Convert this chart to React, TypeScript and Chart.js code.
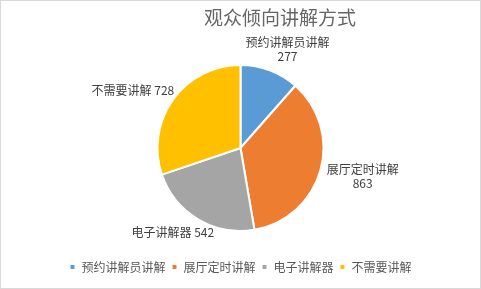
import React, { useEffect, useRef } from "react";
import { Chart, registerables } from "chart.js";

Chart.register(...registerables);

const titleText = "观众倾向讲解方式";
const categories = ["预约讲解员讲解", "展厅定时讲解", "电子讲解器", "不需要讲解"];
const values = [277, 863, 542, 728];
const colors = ["#5B9BD5", "#ED7D31", "#A5A5A5", "#FFC000"];
const labelStacked = [true, true, false, false];

const FONT = "'Noto Sans CJK SC', 'Microsoft YaHei', sans-serif";

const framePlugin = {
  id: "frame",
  beforeDraw(chart: any) {
    const { ctx, width, height } = chart;
    ctx.save();
    ctx.fillStyle = "#ffffff";
    ctx.fillRect(0, 0, width, height);
    ctx.strokeStyle = "#d9d9d9";
    ctx.lineWidth = 1;
    ctx.strokeRect(0.5, 0.5, width - 1, height - 1);
    ctx.restore();
  },
  afterDraw(chart: any) {
    const { ctx } = chart;
    ctx.save();
    ctx.font = `19px ${FONT}`;
    ctx.fillStyle = "#666666";
    ctx.textAlign = "center";
    ctx.textBaseline = "middle";
    ctx.fillText(titleText, 280, 18);
    ctx.restore();
  },
};

const labelPlugin = {
  id: "sliceLabels",
  afterDatasetsDraw(chart: any) {
    const { ctx } = chart;
    const meta = chart.getDatasetMeta(0);
    ctx.save();
    ctx.font = `12px ${FONT}`;
    ctx.fillStyle = "#404040";
    ctx.textAlign = "center";
    ctx.textBaseline = "middle";
    const lineH = 14;
    meta.data.forEach((arc: any, i: number) => {
      const p = arc.getProps(["x", "y", "startAngle", "endAngle", "outerRadius"], true);
      const mid = (p.startAngle + p.endAngle) / 2;
      const dx = Math.cos(mid);
      const dy = Math.sin(mid);
      const lines = labelStacked[i]
        ? [categories[i], String(values[i])]
        : [categories[i] + " " + values[i]];
      const w = Math.max(...lines.map((l) => ctx.measureText(l).width));
      const h = lines.length * lineH;
      const ax = p.x + (p.outerRadius + 8) * dx;
      const ay = p.y + (p.outerRadius + 8) * dy;
      const cx = ax + dx * (w / 2);
      const cy = ay + dy * (h / 2);
      lines.forEach((l, k) => {
        ctx.fillText(l, cx, cy - h / 2 + lineH / 2 + k * lineH);
      });
    });
    ctx.restore();
  },
};

export default function App() {
  const ref = useRef<HTMLCanvasElement>(null);
  useEffect(() => {
    if (!ref.current) return;
    const chart = new Chart(ref.current, {
      type: "pie",
      data: {
        labels: categories,
        datasets: [
          {
            data: values,
            backgroundColor: colors,
            borderColor: "#ffffff",
            borderWidth: 2,
            radius: 83,
          },
        ],
      },
      options: {
        responsive: false,
        animation: false,
        layout: { padding: { top: 41, bottom: 6, left: 0, right: 0 } },
        plugins: {
          title: { display: false },
          legend: {
            position: "bottom",
            labels: {
              color: "#595959",
              font: { family: FONT, size: 12 },
              boxWidth: 6,
              boxHeight: 6,
              padding: 6,
            },
          },
          tooltip: { enabled: false },
        },
      },
      plugins: [framePlugin, labelPlugin],
    });
    return () => chart.destroy();
  }, []);
  return (
    <div style={{ position: "fixed", left: 0, top: 0, width: 481, height: 289 }}>
      <canvas ref={ref} width={481} height={289} />
    </div>
  );
}
